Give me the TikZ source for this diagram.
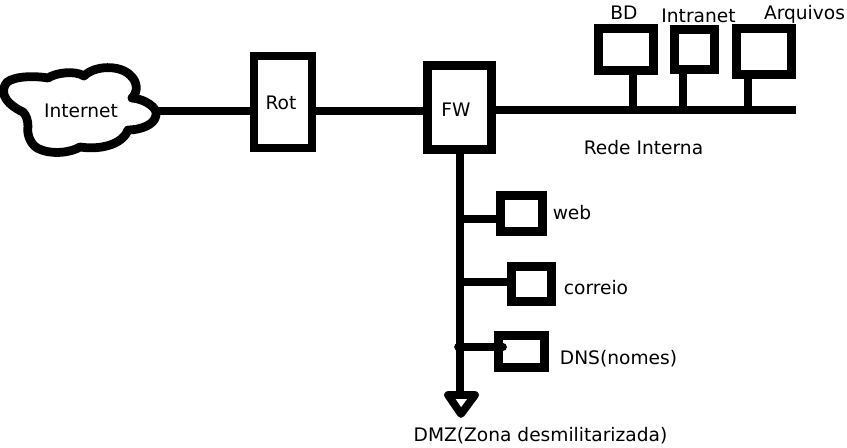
\documentclass[tikz,border=0pt]{standalone}
\usepackage{fontspec}
\setmainfont{DejaVu Sans}
\usepackage{tikz}
\usetikzlibrary{positioning}
\tikzstyle{box} = [rectangle, draw, line width=4.9pt, inner sep=0pt]
\tikzstyle{wire} = [line width=4.4pt]
\tikzstyle{txt} = [inner sep=0pt, font=\fontsize{10.6}{12}\selectfont]

\begin{document}
\begin{tikzpicture}[x=0.02cm, y=-0.02cm]
    \useasboundingbox (0,0) rectangle (847,447);
    % cloud
    \draw[line width=5pt, line join=round] (23,112) .. controls (8,105) and (0,95) .. (5,85)
        .. controls (8,77) and (30,75) .. (48,78) .. controls (55,73) and (75,70) .. (84,76)
        .. controls (95,65) and (120,65) .. (130,75) .. controls (138,82) and (138,92) .. (132,98)
        .. controls (145,99) and (158,108) .. (156,115) .. controls (155,125) and (140,130) .. (128,130)
        .. controls (122,145) and (100,150) .. (80,147) .. controls (70,153) and (50,155) .. (37,148)
        .. controls (28,142) and (27,130) .. (28,127) .. controls (28,120) and (26,115) .. (23,112) -- cycle;
    \node[txt] (internet) at (81,111) {Internet};
    \coordinate (cloudE) at (155,111);
    % routers
    \node[box, minimum width=1.16cm, minimum height=1.84cm] (rot) at (283,102) {};
    \node[txt] (rotlabel) at (281,103) {Rot};
    \node[box, minimum width=1.28cm, minimum height=1.68cm] (fw) at (459.5,107.5) {};
    \node[txt] (fwlabel) at (456,110) {FW};
    \draw[wire] (cloudE) -- (rot.west |- cloudE);
    \coordinate (fwIn) at (431,111);
    \draw[wire] (rot.east |- fwIn) -- (fwIn);
    % rede interna
    \coordinate (busR) at (796,110);
    \draw[wire] (fw.east |- busR) -- (busR);
    \node[box, minimum width=1.1cm, minimum height=0.84cm] (bd) at (626,49.5) {};
    \node[box, minimum width=0.8cm, minimum height=0.8cm] (intranet) at (694.5,49.5) {};
    \node[box, minimum width=1.1cm, minimum height=0.92cm] (arquivos) at (764,51.5) {};
    \coordinate (bdB) at (633,110);
    \coordinate (intranetB) at (683,110);
    \coordinate (arquivosB) at (748,110);
    \draw[wire] (bd.south -| bdB) -- (bdB);
    \draw[wire] (intranet.south -| intranetB) -- (intranetB);
    \draw[wire] (arquivos.south -| arquivosB) -- (arquivosB);
    \node[txt] (bdlabel) at (624,13) {BD};
    \node[txt] (intranetlabel) at (698.5,15.5) {Intranet};
    \node[txt] (arquivoslabel) at (804.5,14) {Arquivos};
    \node[txt] (rede) at (643.5,147.5) {Rede Interna};
    % DMZ
    \node[box, minimum width=0.84cm, minimum height=0.72cm] (web) at (521.5,213.5) {};
    \node[box, minimum width=0.8cm, minimum height=0.7cm] (correio) at (531.5,284) {};
    \node[box, minimum width=0.92cm, minimum height=0.64cm] (dns) at (521.5,351.5) {};
    \node[txt] (weblabel) at (572,212.5) {web};
    \node[txt] (correiolabel) at (596,287.5) {correio};
    \node[txt] (dnslabel) at (618.5,358.5) {DNS(nomes)};
    \coordinate (dmzT) at (460,392);
    \coordinate (webJ) at (460,219);
    \coordinate (correioJ) at (460,282);
    \coordinate (dnsJ) at (458,347);
    \coordinate (dnsE) at (503,347);
    \draw[wire] (fw.south -| dmzT) -- (dmzT);
    \draw[wire] (webJ) -- (web.west |- webJ);
    \draw[wire] (correioJ) -- (correio.west |- correioJ);
    \draw[wire, line cap=round] (dnsJ) -- (dnsE);
    \draw[line width=4.4pt, line join=round] (448,395) -- (475,395) -- (461,414) -- cycle;
    \node[txt] (dmz) at (540.5,435.5) {DMZ(Zona desmilitarizada)};
\end{tikzpicture}
\end{document}
